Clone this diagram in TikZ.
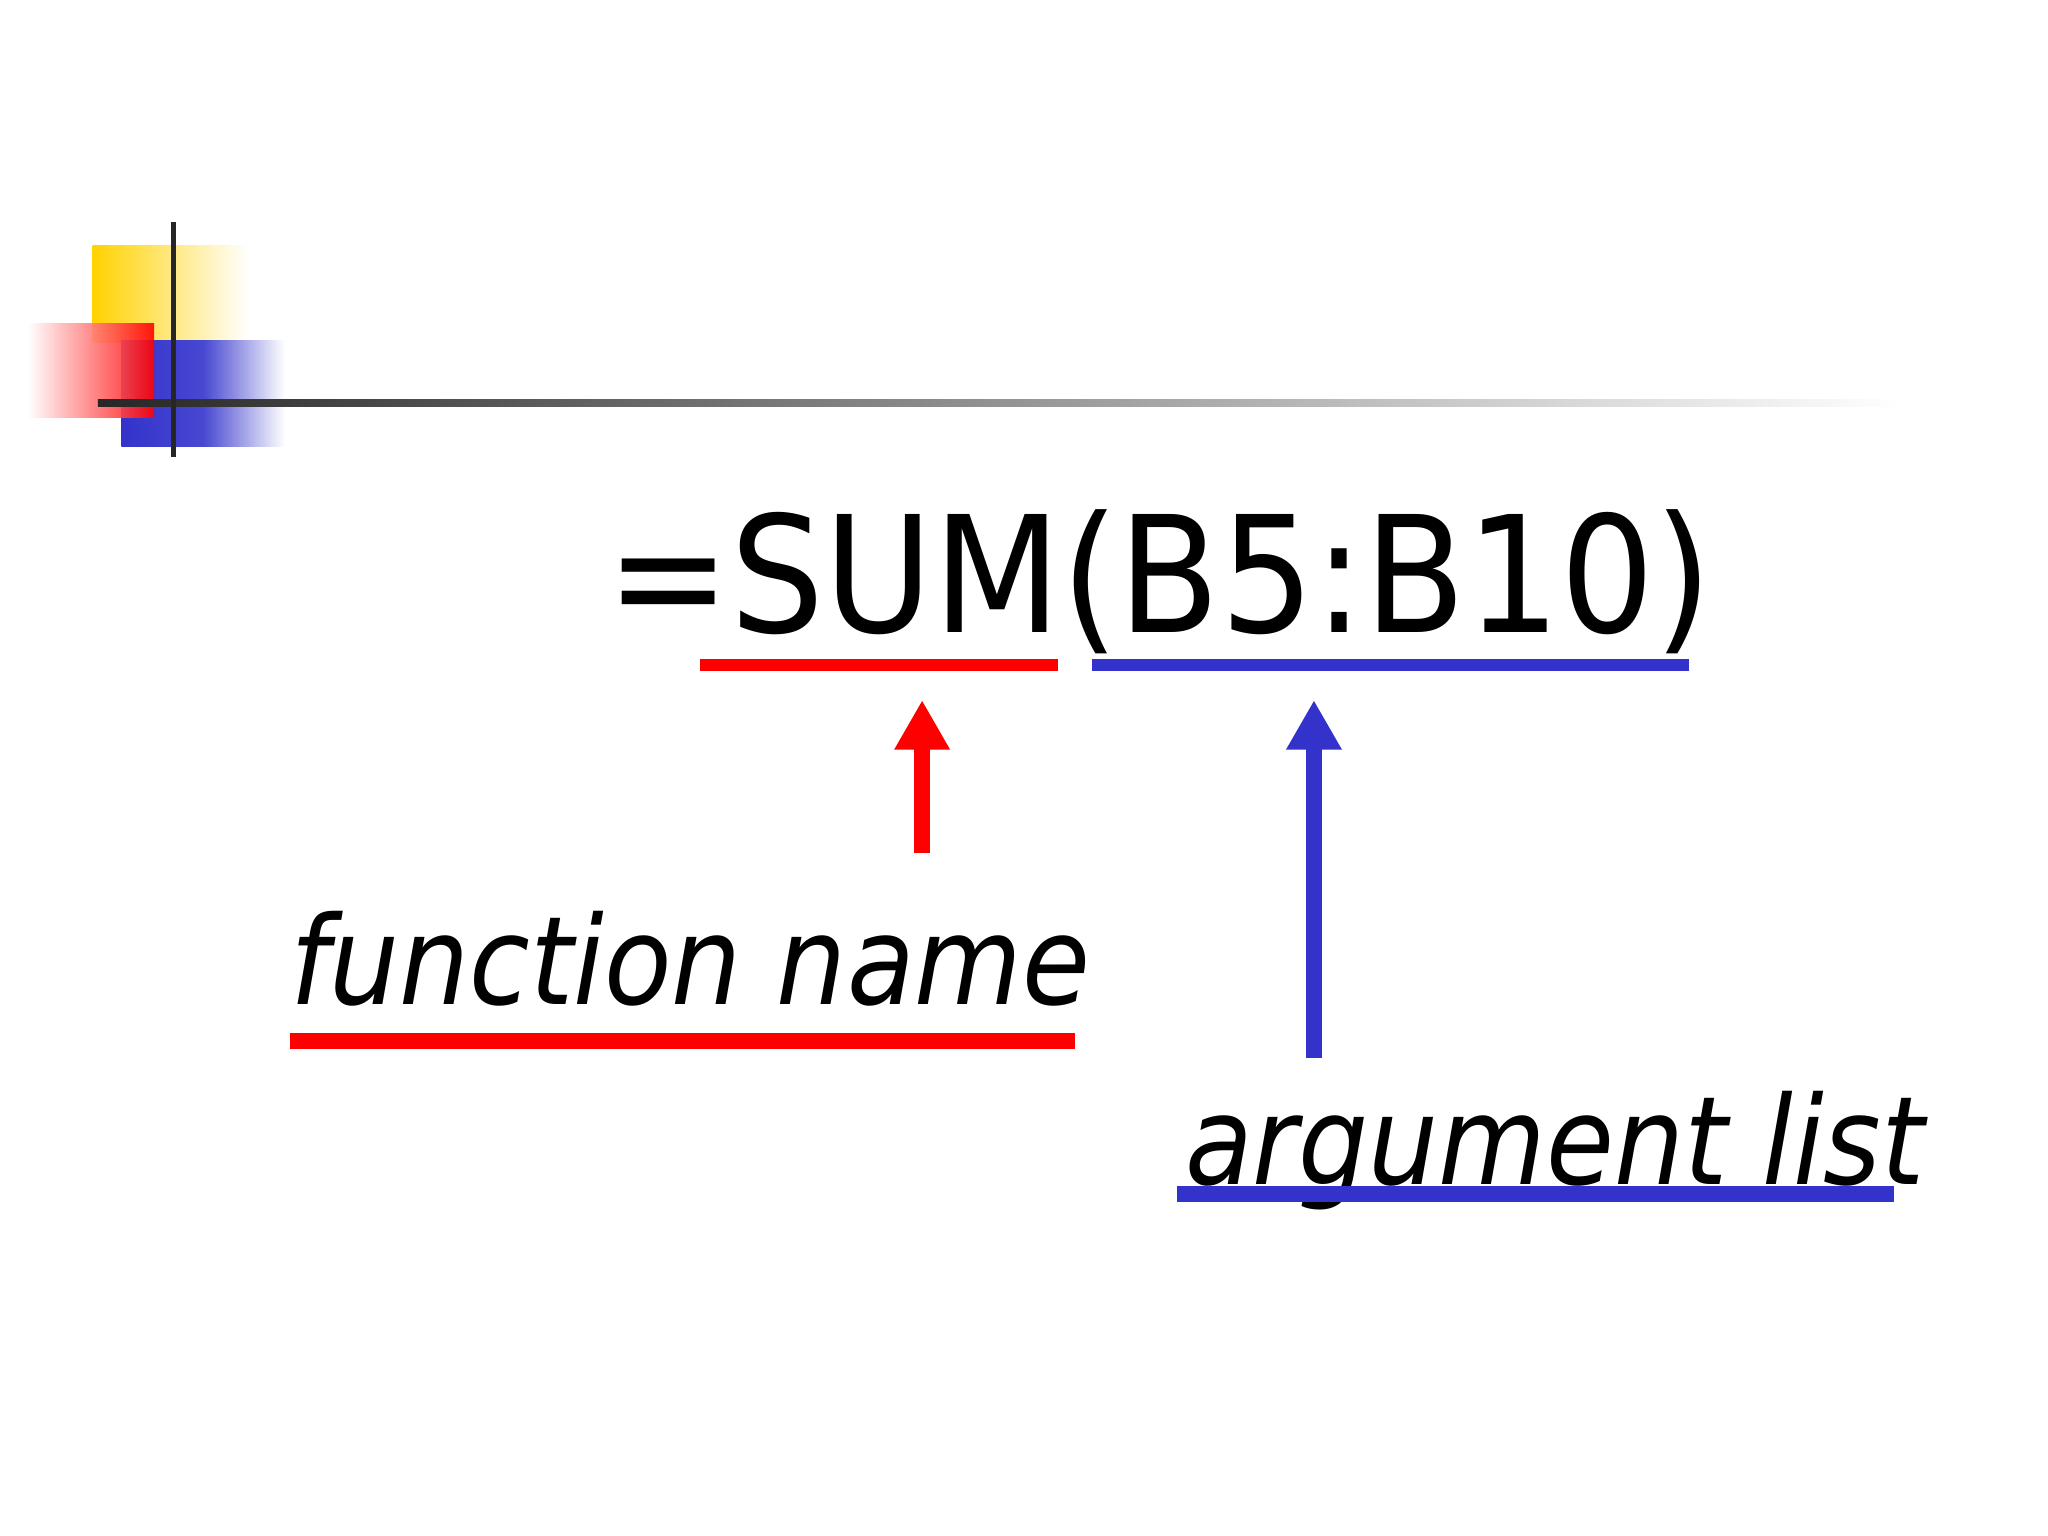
\documentclass[tikz,border=0pt]{standalone}
\usepackage{fontspec}
\setmainfont{DejaVu Sans}
\usetikzlibrary{arrows.meta}
\definecolor{ared}{HTML}{FF0000}
\definecolor{ablue}{HTML}{3333CC}
\definecolor{ayel}{HTML}{FFD200}
\tikzset{
  uline/.style={line width=4.5pt},
  arr/.style={line width=6pt,-{Triangle[length=19pt,width=20pt]}},
  big/.style={inner sep=0pt,anchor=base west,xscale=0.915,font=\fontsize{62}{62}\selectfont},
  lab/.style={inner sep=0pt,anchor=base west,xscale=0.9,font=\fontsize{47}{47}\selectfont\itshape}
}
\begin{document}
\begin{tikzpicture}[x=0.5pt,y=-0.5pt]
\useasboundingbox (0,0) rectangle (1568,1176);
% decoration
\shade[left color=ayel,right color=white] (71,188) rectangle (190,262);
\shade[left color=ablue,right color=white,middle color=ablue!90] (93,261) rectangle (218,342);
\shade[left color=white,right color=ared,opacity=0.9] (21,248) rectangle (118,320);
\shade[left color=black!85,right color=white] (75,306) rectangle (1455,311);
\draw[line width=2pt,black!85] (133,170) -- (133,350);
% formula
\node[big] (f) at (464,484) {=SUM(B5:B10)};
\coordinate (r1) at (536,509); \coordinate (r2) at (810,509);
\coordinate (b1) at (836,509); \coordinate (b2) at (1293,509);
\draw[uline,ared] (r1) -- (r2);
\draw[uline,ablue] (b1) -- (b2);
% arrows
\coordinate (ra0) at (706,653); \coordinate (ra1) at (706,536);
\coordinate (ba0) at (1006,810); \coordinate (ba1) at (1006,536);
\draw[arr,ared] (ra0) -- (ra1);
\draw[arr,ablue] (ba0) -- (ba1);
% labels
\node[lab] (fn) at (222,769) {function name};
\draw[uline,line width=6pt,ared] (222,797) -- (823,797);
\node[lab] (al) at (907,907) {argument list};
\draw[uline,line width=6pt,ablue] (901,914) -- (1450,914);
\end{tikzpicture}
\end{document}
